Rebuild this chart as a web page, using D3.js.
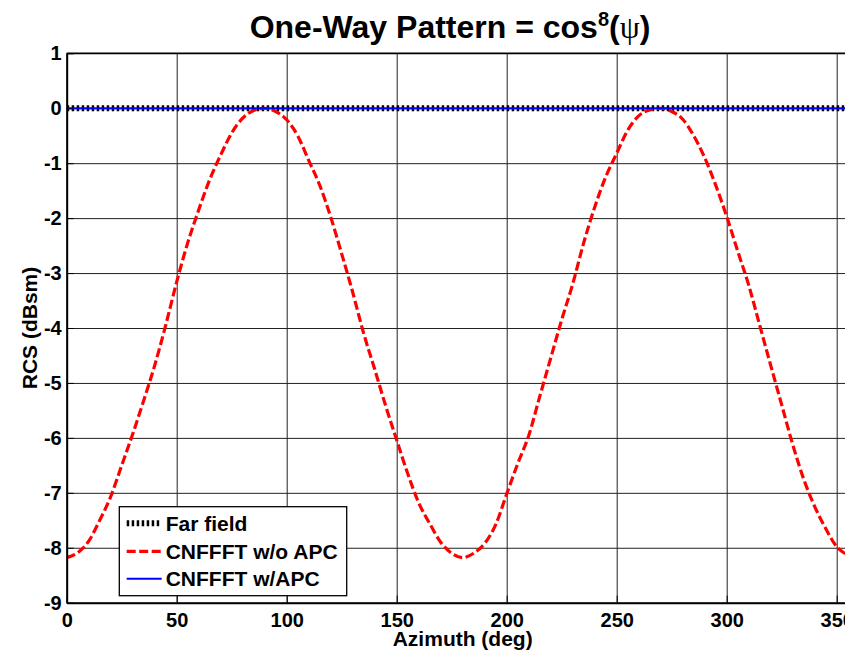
<!DOCTYPE html>
<html>
<head>
<meta charset="utf-8">
<script src="https://cdn.jsdelivr.net/npm/d3@7"></script>
<style>
  html, body { margin: 0; padding: 0; background: #fff; }
  svg { display: block; }
  text { font-family: "Liberation Sans", Arial, sans-serif; font-weight: bold; fill: #000; }
</style>
</head>
<body>
<svg id="chart" width="845" height="650"></svg>
<script>
// ---- data ----
const titleMain = "One-Way Pattern = cos";
const xLabel = "Azimuth (deg)";
const yLabel = "RCS (dBsm)";
const xTicks = [0, 50, 100, 150, 200, 250, 300, 350];
const yTicks = [1, 0, -1, -2, -3, -4, -5, -6, -7, -8, -9];
const seriesNames = ["Far field", "CNFFFT w/o APC", "CNFFFT w/APC"];

const farFieldAz = [0, 360];
const farFieldRcs = [0, 0];
const withApcAz = [0, 360];
const withApcRcs = [0, 0];

const azimuth = [0,5,10,15,20,25,30,35,40,45,50,55,60,65,70,75,80,85,90,95,100,105,110,115,120,125,130,135,140,145,150,155,160,165,170,175,180,185,190,195,200,205,210,215,220,225,230,235,240,245,250,255,260,265,270,275,280,285,290,295,300,305,310,315,320,325,330,335,340,345,350,355,360];
const noApcRcs = [-8.18,-8.09,-7.88,-7.5,-7.07,-6.5,-5.93,-5.32,-4.68,-3.95,-3.16,-2.45,-1.85,-1.3,-0.85,-0.45,-0.18,-0.04,0,-0.06,-0.21,-0.5,-0.95,-1.4,-1.98,-2.65,-3.35,-4.1,-4.75,-5.42,-6.04,-6.65,-7.18,-7.56,-7.9,-8.1,-8.18,-8.1,-7.92,-7.58,-7.02,-6.47,-5.96,-5.25,-4.55,-3.85,-3.2,-2.45,-1.8,-1.25,-0.82,-0.4,-0.14,-0.03,0,-0.06,-0.2,-0.5,-0.9,-1.4,-1.97,-2.6,-3.22,-3.95,-4.68,-5.4,-6.12,-6.75,-7.25,-7.65,-7.98,-8.13,-8.18];

// ---- layout ----
const svg = d3.select("#chart");
const L = 66.7, T = 53.3, R = 858.7, B = 602.7;
const x = d3.scaleLinear().domain([0, 360]).range([L, R]);
const y = d3.scaleLinear().domain([-9, 1]).range([B, T]);
const fmt = d => String(d);

svg.append("defs").append("clipPath").attr("id", "clip")
  .append("rect").attr("x", L).attr("y", T).attr("width", R - L).attr("height", B - T);

// grid
svg.append("g").attr("transform", `translate(0,${B})`)
  .call(d3.axisBottom(x).tickValues(xTicks).tickSize(-(B - T)).tickFormat(""))
  .call(g => g.select(".domain").remove())
  .selectAll("line").attr("stroke", "#222").attr("stroke-width", 1);
svg.append("g").attr("transform", `translate(${L},0)`)
  .call(d3.axisLeft(y).tickValues(yTicks).tickSize(-(R - L)).tickFormat(""))
  .call(g => g.select(".domain").remove())
  .selectAll("line").attr("stroke", "#222").attr("stroke-width", 1);

// lines
const plot = svg.append("g").attr("clip-path", "url(#clip)");
const straight = d3.line().x(d => x(d[0])).y(d => y(d[1]));
const smooth = d3.line().x(d => x(d[0])).y(d => y(d[1])).curve(d3.curveMonotoneX);
const ffData = farFieldAz.map((a, i) => [a, farFieldRcs[i]]);
const noData = azimuth.map((a, i) => [a, noApcRcs[i]]);
const wData = withApcAz.map((a, i) => [a, withApcRcs[i]]);

plot.append("path").datum(ffData).attr("d", straight)
  .attr("fill", "none").attr("stroke", "#000").attr("stroke-width", 6)
  .attr("stroke-dasharray", "2.5,2.5");
plot.append("path").datum(noData).attr("d", smooth)
  .attr("fill", "none").attr("stroke", "#ff0000").attr("stroke-width", 3.2)
  .attr("stroke-dasharray", "9,3.5");
plot.append("path").datum(wData).attr("d", straight)
  .attr("fill", "none").attr("stroke", "#0000ff").attr("stroke-width", 2);

// axes
const xa = svg.append("g").attr("transform", `translate(0,${B})`)
  .call(d3.axisBottom(x).tickValues(xTicks).tickFormat(fmt).tickSizeInner(-7).tickSizeOuter(0).tickPadding(10));
const ya = svg.append("g").attr("transform", `translate(${L},0)`)
  .call(d3.axisLeft(y).tickValues(yTicks).tickFormat(fmt).tickSizeInner(-7).tickSizeOuter(0).tickPadding(5));
[xa, ya].forEach(g => {
  g.selectAll("text").attr("font-family", "Liberation Sans, Arial, sans-serif")
    .attr("font-weight", "bold").attr("font-size", 20).attr("fill", "#000");
  g.selectAll("line").attr("stroke", "#000");
  g.select(".domain").attr("stroke", "#000").attr("stroke-width", 2);
});
// top border
svg.append("line").attr("x1", L).attr("x2", R).attr("y1", T).attr("y2", T)
  .attr("stroke", "#000").attr("stroke-width", 1.5);

// title
const title = svg.append("text").attr("x", 450).attr("y", 38)
  .attr("text-anchor", "middle").attr("font-size", 32);
title.append("tspan").text(titleMain);
title.append("tspan").attr("font-size", 20).attr("dy", -12).text("8");
title.append("tspan").attr("dy", 12).text("(");
title.append("tspan").attr("font-family", "Liberation Serif, serif").attr("font-weight", "normal").text("ψ");
title.append("tspan").text(")");

// axis labels
svg.append("text").attr("x", (L + R) / 2).attr("y", 646).attr("text-anchor", "middle")
  .attr("font-size", 21).text(xLabel);
svg.append("text").attr("transform", `translate(36.5,${(T + B) / 2}) rotate(-90)`)
  .attr("text-anchor", "middle").attr("font-size", 21).text(yLabel);

// legend
const lg = svg.append("g");
lg.append("rect").attr("x", 119.3).attr("y", 506.7).attr("width", 227.4).attr("height", 89)
  .attr("fill", "#fff").attr("stroke", "#000").attr("stroke-width", 1.3);
const rows = [523.3, 551.3, 578.7];
const styles = [
  {stroke: "#000", w: 6, dash: "2.5,2.5"},
  {stroke: "#ff0000", w: 3.2, dash: "9,3.5"},
  {stroke: "#0000ff", w: 2, dash: null}
];
seriesNames.forEach((n, i) => {
  const l = lg.append("line").attr("x1", 126.7).attr("x2", 161.7)
    .attr("y1", rows[i]).attr("y2", rows[i])
    .attr("stroke", styles[i].stroke).attr("stroke-width", styles[i].w);
  if (styles[i].dash) l.attr("stroke-dasharray", styles[i].dash);
  lg.append("text").attr("x", 165.7).attr("y", rows[i]).attr("dy", "0.36em")
    .attr("font-size", 21).text(n);
});
</script>
</body>
</html>
